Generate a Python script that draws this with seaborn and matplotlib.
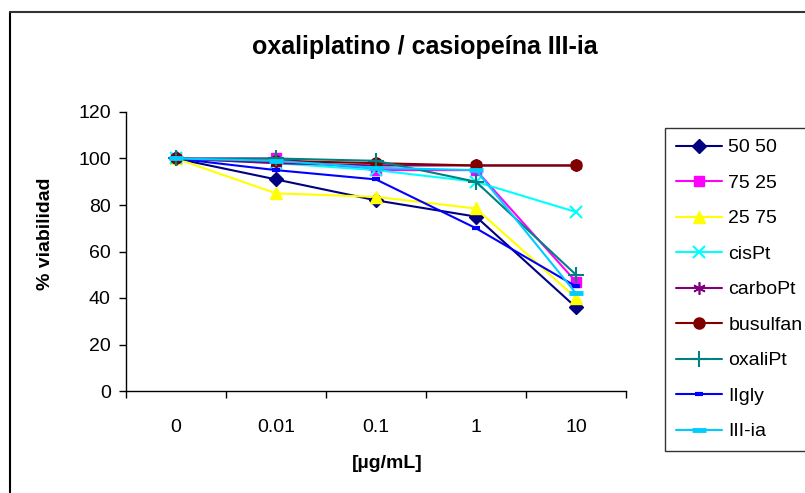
import matplotlib
matplotlib.use("Agg")
import matplotlib.pyplot as plt
import seaborn as sns
import numpy as np
from matplotlib.lines import Line2D

sns.set_theme(style="white")
plt.rcParams['font.family'] = ['Liberation Sans', 'DejaVu Sans']
plt.rcParams['text.color'] = 'black'
plt.rcParams['axes.labelcolor'] = 'black'
plt.rcParams['xtick.color'] = 'black'
plt.rcParams['ytick.color'] = 'black'

categories = ["0", "0.01", "0.1", "1", "10"]
series_names = ["50 50", "75 25", "25 75", "cisPt", "carboPt", "busulfan", "oxaliPt", "IIgly", "III-ia"]
v_50_50 = [100, 91, 82, 75, 36]
v_75_25 = [100, 100, 95, 95, 47]
v_25_75 = [100, 85, 83.5, 78.5, 40]
v_cisPt = [100, 98, 95, 90, 77]
v_carboPt = [100, 98, 97, 97, 97]
v_busulfan = [100, 99, 98, 97, 97]
v_oxaliPt = [100, 100, 99, 90, 50]
v_IIgly = [100, 95, 91, 70, 45]
v_IIIia = [100, 99, 96, 95, 42]
values = [v_50_50, v_75_25, v_25_75, v_cisPt, v_carboPt, v_busulfan, v_oxaliPt, v_IIgly, v_IIIia]

colors = ["#000080", "#FF00FF", "#FFFF00", "#00FFFF", "#800080", "#800000", "#008080", "#0000FF", "#00CCFF"]
markers = ["D", "s", "^", "x", (6, 2, 0), "o", "+", "_", "_"]
msizes = [7, 7, 8, 9, 9, 8, 11, 6, 10]
mews = [1, 1, 1, 1.5, 1.2, 1, 1.5, 3, 3.5]

fig = plt.figure(figsize=(8.05, 4.93), dpi=100)
ax = fig.add_axes([126/805, 1-391/493, 500/805, 279/493])

x = np.arange(len(categories))
for i, (name, vals) in enumerate(zip(series_names, values)):
    sns.lineplot(x=x, y=vals, ax=ax, color=colors[i], marker=markers[i],
                 markersize=msizes[i], markeredgewidth=mews[i],
                 markeredgecolor=colors[i], markerfacecolor=colors[i],
                 linewidth=1.5, label=name, zorder=3+i, legend=False)

ax.set_xlim(-0.5, len(categories)-0.5)
ax.set_ylim(0, 120)
ax.set_yticks(np.arange(0, 121, 20))
ax.set_xticks(np.arange(-0.5, len(categories), 1.0))
ax.set_xticklabels([])
ax.set_xticks(x, minor=True)
ax.set_xticklabels(categories, minor=True)
ax.tick_params(axis='x', which='minor', length=0, pad=20, labelsize=14, colors='black')
ax.tick_params(axis='x', which='major', length=5, width=1, direction='out', bottom=True, color='black')
ax.tick_params(axis='y', length=5, width=1, direction='out', left=True, labelsize=14, pad=6, color='black', labelcolor='black')
for s in ['top', 'right']:
    ax.spines[s].set_visible(False)
for s in ['left', 'bottom']:
    ax.spines[s].set_color('black')
    ax.spines[s].set_linewidth(1)
ax.grid(False)

ax.set_xlabel("[µg/mL]", fontsize=14, fontweight='bold', color='black')
ax.set_ylabel("% viabilidad", fontsize=14, fontweight='bold', color='black')
ax.xaxis.set_label_coords((387-126)/500, -(463-391)/279)
ax.yaxis.set_label_coords((45-126)/500, (391-234)/279)
ax.xaxis.label.set_va('center')
ax.yaxis.label.set_va('center')
fig.text(425/805, 1 - 47/493, "oxaliplatino / casiopeína III-ia", ha='center', va='center',
         fontsize=18, fontweight='bold', color='black')

handles = [Line2D([0], [0], color=colors[i], marker=markers[i], markersize=msizes[i],
                  markeredgewidth=mews[i], markerfacecolor=colors[i], markeredgecolor=colors[i],
                  linewidth=1.5) for i in range(len(series_names))]
leg = fig.legend(handles, series_names, loc='upper left', bbox_to_anchor=(665/805, 1-128/493),
                 bbox_transform=fig.transFigure, borderaxespad=0, frameon=True, fancybox=False,
                 fontsize=14, handlelength=2.4, handletextpad=0.3, labelspacing=0.92,
                 borderpad=0.55, labelcolor='black')
leg.get_frame().set_edgecolor('black')
leg.get_frame().set_linewidth(1)

# figure border (left and top visible)
fig.add_artist(Line2D([10/805, 10/805], [0, 1-12/493], transform=fig.transFigure, color='black', linewidth=1.5))
fig.add_artist(Line2D([10/805, 1], [1-12/493, 1-12/493], transform=fig.transFigure, color='#333333', linewidth=1.5))

fig.savefig("out.png", dpi=100)
